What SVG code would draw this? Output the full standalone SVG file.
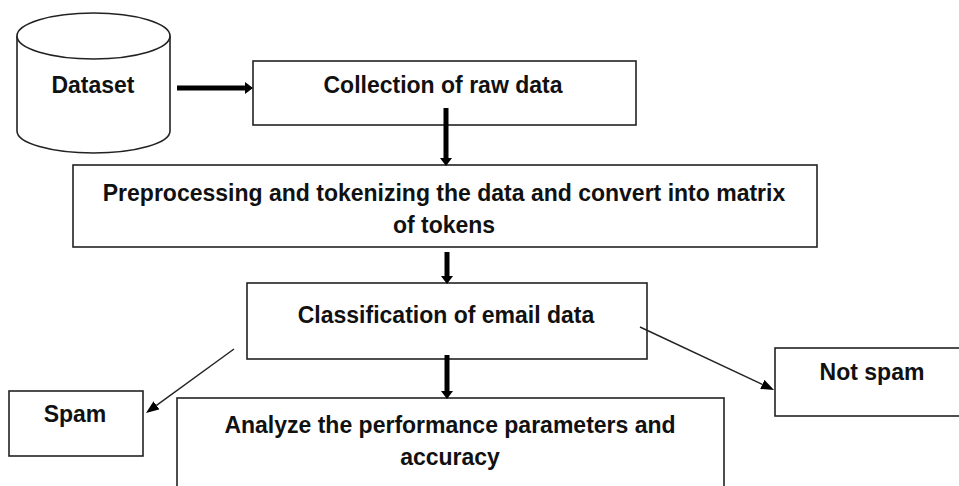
<svg xmlns="http://www.w3.org/2000/svg" width="959" height="486" viewBox="0 0 959 486">
  <style>
    .box { fill: #fff; stroke: #222; stroke-width: 1.6; }
    .lbl { font-family: "Liberation Sans", Arial, sans-serif; font-weight: bold; font-size: 23px; fill: #111; text-anchor: middle; }
    .thick { stroke: #000; stroke-width: 5; fill: none; }
    .thin { stroke: #222; stroke-width: 1.4; fill: none; }
  </style>
  <defs>
    <marker id="hThick" markerUnits="userSpaceOnUse" markerWidth="8" markerHeight="12" refX="0" refY="6" orient="auto">
      <path d="M0,0 L8,6 L0,12 Z" fill="#000"/>
    </marker>
    <marker id="hThin" markerUnits="userSpaceOnUse" markerWidth="13" markerHeight="10" refX="0" refY="5" orient="auto">
      <path d="M0,0 L13,5 L0,10 Z" fill="#000"/>
    </marker>
  </defs>
  <rect width="959" height="486" fill="#fff"/>

  <g id="dataset">
    <path class="box" d="M17,36 L17,131 A76.5,22 0 0 0 170,131 L170,36"/>
    <ellipse class="box" cx="93.5" cy="36" rx="76.5" ry="23"/>
    <text class="lbl" x="93" y="93">Dataset</text>
  </g>

  <g id="collection">
    <rect class="box" x="253" y="61" width="383" height="64"/>
    <text class="lbl" x="443" y="93">Collection of raw data</text>
  </g>

  <g id="preprocessing">
    <rect class="box" x="73" y="165" width="744" height="82"/>
    <text class="lbl" x="444" y="201">Preprocessing and tokenizing the data and convert into matrix</text>
    <text class="lbl" x="444" y="233">of tokens</text>
  </g>

  <g id="classification">
    <rect class="box" x="247" y="283" width="400" height="76"/>
    <text class="lbl" x="446" y="323">Classification of email data</text>
  </g>

  <g id="spam">
    <rect class="box" x="9" y="391" width="134" height="65"/>
    <text class="lbl" x="75" y="422">Spam</text>
  </g>

  <g id="notspam">
    <rect class="box" x="775" y="348" width="200" height="68"/>
    <text class="lbl" x="872" y="380">Not spam</text>
  </g>

  <g id="analyze">
    <rect class="box" x="177" y="398" width="547" height="100"/>
    <text class="lbl" x="450" y="433">Analyze the performance parameters and</text>
    <text class="lbl" x="450" y="465">accuracy</text>
  </g>

  <g id="connectors">
    <line class="thick" x1="177" y1="88" x2="245" y2="88" marker-end="url(#hThick)"/>
    <line class="thick" x1="446" y1="108" x2="446" y2="158" marker-end="url(#hThick)"/>
    <line class="thick" x1="447" y1="252" x2="447" y2="276" marker-end="url(#hThick)"/>
    <line class="thick" x1="447" y1="355" x2="447" y2="391" marker-end="url(#hThick)"/>
    <line class="thin" x1="234" y1="349" x2="156.5" y2="405.4" marker-end="url(#hThin)"/>
    <line class="thin" x1="640" y1="327" x2="762.3" y2="384.4" marker-end="url(#hThin)"/>
  </g>
</svg>
